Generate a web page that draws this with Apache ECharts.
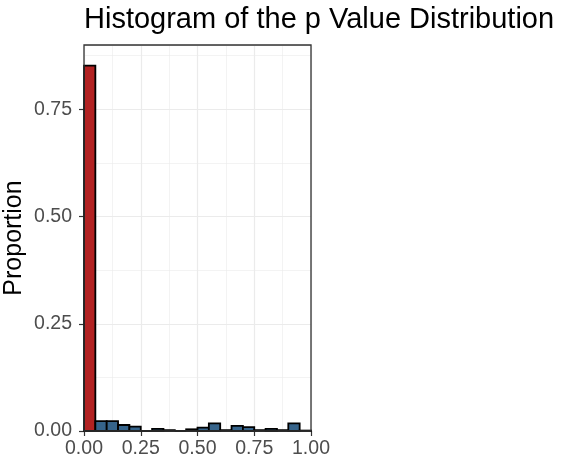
<!DOCTYPE html>
<html>
<head>
<meta charset="utf-8">
<script src="https://cdn.jsdelivr.net/npm/echarts@6/dist/echarts.min.js"></script>
<style>
html,body{margin:0;padding:0;background:#fff;}
#chart{width:567px;height:462px;}
</style>
</head>
<body>
<div id="chart"></div>
<script>
// Histogram bins (lower edge), bin width 0.05
const binStarts = [0.00,0.05,0.10,0.15,0.20,0.25,0.30,0.35,0.40,0.45,0.50,0.55,0.60,0.65,0.70,0.75,0.80,0.85,0.90,0.95];
const proportions = [0.852,0.023,0.023,0.014,0.010,0.000,0.005,0.002,0.000,0.004,0.008,0.018,0.002,0.012,0.009,0.002,0.005,0.002,0.018,0.001];
const binWidth = 0.05;
const significantColor = '#B22222';
const otherColor = '#36648B';
const xTicks = [0, 0.25, 0.5, 0.75, 1.0];
const yTicks = [0, 0.25, 0.5, 0.75];

const data = binStarts.map((s, i) => [s, s + binWidth, proportions[i], s < 0.05 ? 1 : 0]);

const chart = echarts.init(document.getElementById('chart'), null, {renderer: 'canvas'});
const fontFamily = '"Liberation Sans", Arial, Helvetica, sans-serif';
const yMax = 0.9;

chart.setOption({
  animation: false,
  backgroundColor: '#ffffff',
  title: {
    text: 'Histogram of the p Value Distribution',
    left: 84,
    top: 5,
    padding: 0,
    textStyle: {fontFamily, fontSize: 29, fontWeight: 'normal', color: '#000'}
  },
  grid: {left: 84, right: 256, top: 45, bottom: 31, containLabel: false},
  xAxis: {
    type: 'value', min: 0, max: 1, interval: 0.25,
    axisLine: {show: false},
    axisTick: {show: true, length: 5, lineStyle: {color: '#333333', width: 1.2}},
    axisLabel: {fontFamily, fontSize: 19.5, color: '#4D4D4D', margin: 8,
      formatter: v => v.toFixed(2)},
    splitLine: {show: true, lineStyle: {color: '#EBEBEB', width: 1.2}},
    minorTick: {show: false, splitNumber: 2},
    minorSplitLine: {show: true, lineStyle: {color: '#EBEBEB', width: 0.6}}
  },
  yAxis: {
    type: 'value', min: 0, max: yMax, interval: 0.25,
    axisLine: {show: false},
    axisTick: {show: true, length: 5, lineStyle: {color: '#333333', width: 1.2}},
    axisLabel: {fontFamily, fontSize: 19.5, color: '#4D4D4D', margin: 12, showMaxLabel: false,
      formatter: v => v.toFixed(2)},
    splitLine: {show: true, lineStyle: {color: '#EBEBEB', width: 1.2}},
    minorTick: {show: false, splitNumber: 2},
    minorSplitLine: {show: true, lineStyle: {color: '#EBEBEB', width: 0.6}},
    name: 'Proportion',
    nameLocation: 'middle',
    nameGap: 57,
    nameTextStyle: {fontFamily, fontSize: 25, color: '#000'}
  },
  series: [{
    type: 'custom',
    clip: false,
    encode: {x: [0, 1], y: 2},
    data: data,
    renderItem: function (params, api) {
      const p0 = api.coord([api.value(0), 0]);
      const p1 = api.coord([api.value(1), api.value(2)]);
      return {
        type: 'rect',
        shape: {x: p0[0], y: p1[1], width: p1[0] - p0[0], height: p0[1] - p1[1]},
        style: {fill: api.value(3) ? significantColor : otherColor, stroke: '#000', lineWidth: 1.8}
      };
    }
  }, {
    type: 'custom',
    silent: true,
    data: [[0, 0]],
    renderItem: function (params, api) {
      const a = api.coord([0, 0]);
      const b = api.coord([1, yMax]);
      return {
        type: 'rect',
        shape: {x: a[0], y: b[1], width: b[0] - a[0], height: a[1] - b[1]},
        style: {fill: 'none', stroke: '#333333', lineWidth: 1.3},
        z2: 100
      };
    },
    z: 10
  }]
});
</script>
</body>
</html>
